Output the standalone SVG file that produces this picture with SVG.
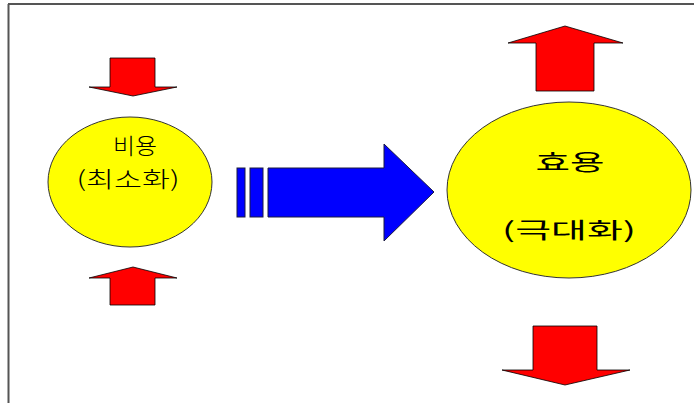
<svg xmlns="http://www.w3.org/2000/svg" width="694" height="403" viewBox="0 0 694 403">
  <style>
    .red { fill: #ff0000; stroke: #000; stroke-width: 0.8; stroke-linejoin: miter; }
    .blue { fill: #0000ff; stroke: #1a1a40; stroke-width: 1; }
    .bubble { fill: #ffff00; stroke: #333; stroke-width: 1; }
    .label { font-family: "Noto Sans CJK KR", "Noto Sans", sans-serif; fill: #000; text-anchor: middle; font-size: 22px; }
    .thin { font-weight: 300; }
  </style>

  <!-- page frame -->
  <rect x="0" y="0" width="694" height="403" fill="#fff"/>
  <line x1="8" y1="4" x2="694" y2="4" stroke="#555" stroke-width="2"/>
  <line x1="8.5" y1="4" x2="8.5" y2="403" stroke="#555" stroke-width="2"/>

  <g id="connectors">
    <!-- pressure arrows on cost -->
    <polygon class="red" points="110,58 155,58 155,87 177,87 133,96 89,87 110,87"/>
    <polygon class="red" points="110,305 155,305 155,278 177,278 133,267 89,278 110,278"/>
    <!-- expansion arrows on utility -->
    <polygon class="red" points="536,91 594,91 594,43 623,43 565,26 508,43 536,43"/>
    <polygon class="red" points="533,326 597,326 597,370 630,370 565,385 502,370 533,370"/>
    <!-- main transition arrow -->
    <rect class="blue" x="237" y="168" width="8" height="49"/>
    <rect class="blue" x="250" y="168" width="13" height="49"/>
    <polygon class="blue" points="268,168 384,168 384,144 434,192 384,241 384,217 268,217"/>
  </g>

  <g id="cost">
    <ellipse class="bubble" cx="130" cy="182" rx="82" ry="65"/>
    <text class="label thin" x="135" y="154" textLength="44" lengthAdjust="spacingAndGlyphs">비용</text>
    <text class="label thin" x="128" y="187" textLength="103" lengthAdjust="spacingAndGlyphs">(최소화)</text>
  </g>

  <g id="utility">
    <ellipse class="bubble" cx="569" cy="190" rx="122" ry="88"/>
    <text class="label" x="570" y="170" textLength="69" lengthAdjust="spacingAndGlyphs">효용</text>
    <text class="label" x="569" y="238" textLength="134" lengthAdjust="spacingAndGlyphs">(극대화)</text>
  </g>
</svg>
